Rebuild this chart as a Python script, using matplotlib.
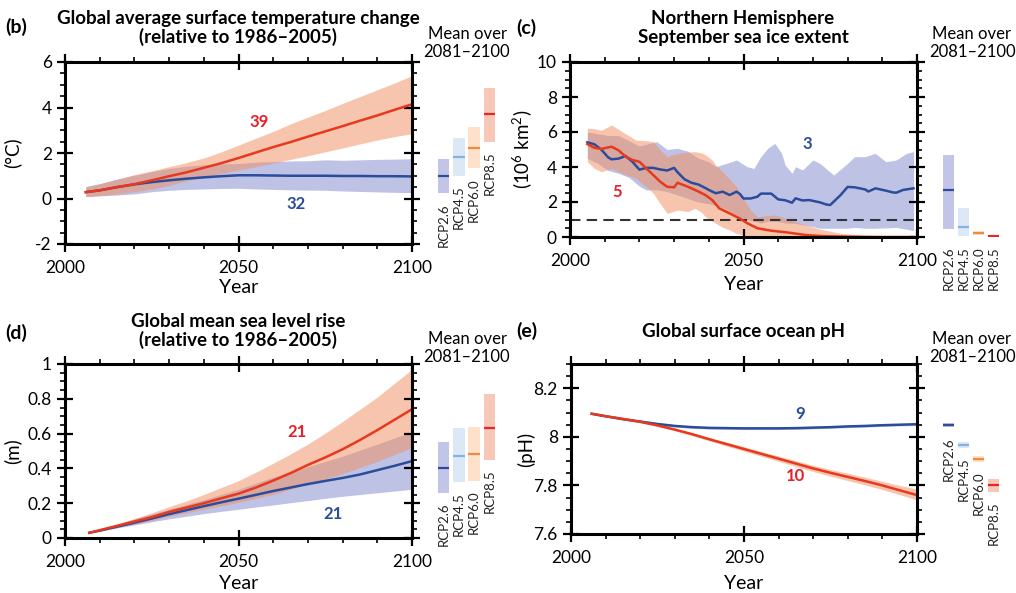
# IPCC-style panels: temperature, sea ice, sea level, ocean pH

import matplotlib
matplotlib.use('Agg')
import matplotlib.pyplot as plt
from matplotlib.ticker import MultipleLocator, FuncFormatter

plt.rcParams['font.family'] = ['Lato', 'DejaVu Sans']
plt.rcParams['mathtext.fontset'] = 'custom'
plt.rcParams['mathtext.rm'] = 'Lato'
plt.rcParams['mathtext.it'] = 'Lato:italic'

BLUE = '#2b4c9b'
RED = '#e8381e'
BLUE_FILL = (127/255, 135/255, 205/255, 0.5)
RED_FILL = (241/255, 141/255, 93/255, 0.5)
NUM_BLUE = '#2b4c9b'
NUM_RED = '#e5202a'

rcp_names = ['RCP2.6', 'RCP4.5', 'RCP6.0', 'RCP8.5']
bar_fill = ['#c2c5e7', '#dde8f7', '#fde1cb', '#f7c8b8']
bar_line = ['#2b4c9b', '#7fb3e2', '#f08a3c', '#e8262a']

# (b) global average surface temperature change
b_years = [2006, 2010, 2015, 2020, 2025, 2030, 2035, 2040, 2045, 2050,
           2055, 2060, 2065, 2070, 2075, 2080, 2085, 2090, 2095, 2100]
b_red = [0.28, 0.36, 0.50, 0.63, 0.80, 0.98, 1.15, 1.35, 1.55, 1.78,
         2.02, 2.26, 2.48, 2.72, 2.95, 3.18, 3.42, 3.65, 3.90, 4.14]
b_red_hi = [0.52, 0.65, 0.85, 1.05, 1.22, 1.40, 1.58, 1.78, 2.05, 2.35,
            2.65, 2.95, 3.28, 3.58, 3.87, 4.18, 4.48, 4.78, 5.08, 5.40]
b_red_lo = [0.08, 0.12, 0.20, 0.30, 0.42, 0.58, 0.78, 0.95, 1.10, 1.25,
            1.40, 1.56, 1.72, 1.88, 2.05, 2.22, 2.40, 2.57, 2.72, 2.85]
b_blue = [0.28, 0.36, 0.50, 0.62, 0.72, 0.80, 0.87, 0.93, 0.98, 1.02,
          1.02, 1.01, 1.00, 1.00, 1.00, 0.99, 0.99, 0.98, 0.98, 0.97]
b_blue_hi = [0.52, 0.65, 0.85, 1.02, 1.18, 1.32, 1.42, 1.48, 1.52, 1.54,
             1.60, 1.62, 1.65, 1.66, 1.70, 1.68, 1.70, 1.72, 1.73, 1.75]
b_blue_lo = [0.08, 0.12, 0.15, 0.20, 0.30, 0.36, 0.40, 0.42, 0.44, 0.45,
             0.42, 0.40, 0.38, 0.37, 0.36, 0.33, 0.31, 0.29, 0.27, 0.26]
b_bar_lo = [0.22, 1.00, 1.32, 2.50]
b_bar_hi = [1.72, 2.65, 3.15, 4.85]
b_bar_mean = [1.00, 1.84, 2.24, 3.70]

# (c) Northern Hemisphere September sea ice extent
c_blue_years = [2005, 2007, 2009, 2011, 2012, 2014, 2016, 2018, 2020, 2022,
                2024, 2026, 2028, 2030, 2031, 2033, 2035, 2037, 2039, 2040,
                2042, 2044, 2046, 2048, 2049, 2050, 2052, 2054, 2055, 2058,
                2060, 2062, 2064, 2065, 2067, 2069, 2072, 2074, 2075, 2078,
                2080, 2082, 2085, 2086, 2088, 2091, 2093, 2094, 2096, 2099]
c_blue = [5.41, 5.30, 5.00, 4.55, 4.44, 4.48, 4.63, 4.30, 3.85, 3.95,
          3.95, 3.86, 3.80, 3.95, 3.70, 3.30, 3.10, 3.00, 2.80, 2.69,
          2.50, 2.59, 2.40, 2.59, 2.45, 2.20, 2.20, 2.30, 2.48, 2.48,
          2.15, 2.10, 1.96, 2.21, 2.09, 2.11, 1.98, 1.85, 1.83, 2.40,
          2.86, 2.84, 2.72, 2.60, 2.78, 2.65, 2.55, 2.53, 2.69, 2.78]
c_red_years = [2005, 2007, 2009, 2011, 2012, 2014, 2016, 2018, 2020, 2022,
               2024, 2026, 2028, 2030, 2031, 2034, 2037, 2039, 2041, 2043,
               2046, 2049, 2051, 2054, 2058, 2063, 2068, 2073, 2080, 2090,
               2099]
c_red = [5.31, 5.10, 5.03, 5.12, 5.16, 4.95, 4.60, 4.40, 4.30, 3.92,
         3.54, 3.16, 2.87, 2.84, 3.10, 2.87, 2.60, 2.40, 2.11, 1.64,
         1.35, 1.05, 0.80, 0.50, 0.36, 0.25, 0.11, 0.05, 0.02, 0.00,
         0.00]
c_blue_band_years = [2005, 2008, 2011, 2014, 2017, 2020, 2022, 2025, 2028, 2031,
                     2034, 2037, 2040, 2042, 2045, 2048, 2051, 2053, 2055, 2057,
                     2059, 2061, 2062, 2064, 2065, 2067, 2070, 2072, 2076, 2080,
                     2082, 2085, 2088, 2091, 2094, 2097, 2099]
c_blue_hi = [6.00, 5.90, 5.80, 5.80, 5.50, 5.20, 5.30, 5.45, 5.00, 5.07,
             4.90, 4.50, 4.30, 4.02, 4.20, 4.40, 4.02, 3.92, 4.59, 5.07,
             5.35, 4.78, 4.11, 3.64, 4.02, 3.83, 4.40, 4.21, 3.54, 4.21,
             4.59, 4.59, 4.78, 4.30, 4.40, 4.78, 4.88]
c_blue_lo = [4.50, 4.20, 3.80, 3.64, 3.40, 2.90, 2.69, 2.70, 2.60, 2.40,
             2.20, 2.00, 1.90, 1.80, 1.60, 1.20, 1.00, 0.90, 0.80, 0.90,
             0.90, 0.85, 0.80, 0.78, 0.78, 0.70, 0.60, 0.50, 0.50, 0.50,
             0.55, 0.50, 0.50, 0.52, 0.55, 0.45, 0.36]
c_red_band_years = [2005, 2007, 2009, 2012, 2015, 2019, 2022, 2024, 2026, 2028,
                    2031, 2034, 2036, 2038, 2039, 2041, 2042, 2044, 2046, 2048,
                    2050, 2052, 2054, 2059, 2062, 2068, 2072, 2078, 2085, 2099]
c_red_hi = [6.21, 6.20, 6.10, 6.40, 6.02, 5.54, 5.50, 5.45, 4.97, 4.59,
            4.78, 4.85, 4.88, 4.80, 4.70, 4.40, 4.10, 3.73, 3.30, 2.87,
            2.20, 1.54, 1.16, 1.26, 1.07, 0.69, 0.45, 0.21, 0.08, 0.03]
c_red_lo = [4.30, 3.92, 3.73, 3.92, 3.64, 3.35, 2.87, 2.50, 1.90, 1.35,
            1.54, 1.45, 1.64, 1.40, 1.16, 0.90, 0.78, 0.55, 0.40, 0.20,
            0.11, 0.05, 0.02, 0.00, 0.00, 0.00, 0.00, 0.00, 0.00, 0.00]
c_bar_lo = [0.46, 0.04, 0.11, 0.00]
c_bar_hi = [4.69, 1.67, 0.36, 0.12]
c_bar_mean = [2.71, 0.59, 0.21, 0.03]

# (d) global mean sea level rise
d_years = [2007, 2010, 2015, 2020, 2025, 2030, 2035, 2040, 2045, 2050,
           2055, 2060, 2065, 2070, 2075, 2080, 2085, 2090, 2095, 2100]
d_red = [0.030, 0.045, 0.070, 0.095, 0.120, 0.150, 0.175, 0.200, 0.228, 0.255,
         0.290, 0.330, 0.373, 0.420, 0.463, 0.510, 0.563, 0.620, 0.680, 0.740]
d_red_hi = [0.030, 0.048, 0.080, 0.112, 0.145, 0.180, 0.213, 0.250, 0.290, 0.330,
            0.378, 0.430, 0.483, 0.540, 0.603, 0.670, 0.740, 0.810, 0.890, 0.970]
d_red_lo = [0.030, 0.042, 0.062, 0.080, 0.100, 0.125, 0.145, 0.165, 0.185, 0.205,
            0.228, 0.250, 0.280, 0.310, 0.340, 0.370, 0.405, 0.440, 0.480, 0.520]
d_blue = [0.030, 0.042, 0.065, 0.088, 0.112, 0.137, 0.160, 0.183, 0.205, 0.226,
          0.248, 0.270, 0.290, 0.310, 0.328, 0.345, 0.365, 0.390, 0.415, 0.442]
d_blue_hi = [0.030, 0.046, 0.078, 0.110, 0.138, 0.165, 0.193, 0.220, 0.250, 0.280,
             0.315, 0.350, 0.380, 0.410, 0.440, 0.470, 0.505, 0.540, 0.575, 0.610]
d_blue_lo = [0.030, 0.040, 0.058, 0.075, 0.093, 0.110, 0.125, 0.140, 0.153, 0.165,
             0.178, 0.190, 0.203, 0.215, 0.228, 0.240, 0.250, 0.260, 0.270, 0.280]
d_bar_lo = [0.26, 0.32, 0.33, 0.45]
d_bar_hi = [0.55, 0.63, 0.64, 0.83]
d_bar_mean = [0.40, 0.47, 0.48, 0.63]

# (e) global surface ocean pH
e_years = [2006, 2010, 2015, 2020, 2025, 2030, 2035, 2040, 2045, 2050,
           2055, 2060, 2065, 2070, 2075, 2080, 2085, 2090, 2095, 2100]
e_red = [8.095, 8.085, 8.074, 8.062, 8.047, 8.030, 8.011, 7.990, 7.970, 7.950,
         7.930, 7.910, 7.890, 7.870, 7.852, 7.835, 7.818, 7.800, 7.780, 7.760]
e_red_hi = [8.097, 8.087, 8.077, 8.065, 8.051, 8.035, 8.017, 7.997, 7.978, 7.959,
            7.940, 7.921, 7.902, 7.883, 7.866, 7.850, 7.834, 7.817, 7.800, 7.785]
e_red_lo = [8.093, 8.083, 8.071, 8.059, 8.043, 8.025, 8.005, 7.983, 7.962, 7.941,
            7.920, 7.899, 7.878, 7.857, 7.838, 7.820, 7.802, 7.783, 7.762, 7.740]
e_blue = [8.095, 8.085, 8.073, 8.063, 8.053, 8.045, 8.040, 8.037, 8.036, 8.035,
          8.035, 8.035, 8.036, 8.038, 8.040, 8.043, 8.045, 8.048, 8.050, 8.052]
e_blue_hi = [8.097, 8.088, 8.077, 8.068, 8.058, 8.050, 8.045, 8.042, 8.041, 8.040,
             8.040, 8.040, 8.041, 8.043, 8.045, 8.048, 8.050, 8.053, 8.055, 8.057]
e_blue_lo = [8.093, 8.082, 8.069, 8.058, 8.048, 8.040, 8.035, 8.032, 8.031, 8.030,
             8.030, 8.030, 8.031, 8.033, 8.035, 8.038, 8.040, 8.043, 8.045, 8.047]
e_bar_lo = [8.039, 7.955, 7.897, 7.773]
e_bar_hi = [8.056, 7.980, 7.920, 7.825]
e_bar_mean = [8.049, 7.968, 7.908, 7.800]

W, H = 1016, 593
fig = plt.figure(figsize=(W / 100, H / 100), dpi=100)


def rect(l, t, r, b):
    # pixel box -> figure fraction
    return [l / W, 1 - b / H, (r - l) / W, (b - t) / H]


def fx(x):
    return x / W


def fy(y):
    return 1 - y / H


def style(ax, ylim, ymaj, ymin, ylabel, ylab_x, xlab_y):
    ax.set_xlim(2000, 2100)
    ax.set_ylim(*ylim)
    ax.xaxis.set_major_locator(MultipleLocator(50))
    ax.xaxis.set_minor_locator(MultipleLocator(10))
    ax.yaxis.set_major_locator(MultipleLocator(ymaj))
    ax.yaxis.set_minor_locator(MultipleLocator(ymin))
    ax.yaxis.set_major_formatter(FuncFormatter(lambda v, p: '%g' % round(v, 3)))
    ax.tick_params(which='major', direction='inout', length=11, width=1.6,
                   top=True, right=True, labelsize=12.5)
    ax.tick_params(axis='y', which='major', pad=4)
    ax.tick_params(axis='x', which='major', pad=6)
    ax.tick_params(which='minor', direction='out', length=3.5, width=1.2,
                   top=True, right=True)
    for s in ax.spines.values():
        s.set_linewidth(2.2)
    ax.set_xlabel('Year', fontsize=14)
    ax.set_ylabel(ylabel, fontsize=13.5)
    ax.yaxis.set_label_coords(ylab_x, 0.5)
    ax.xaxis.set_label_coords(0.5, xlab_y)


def mean_bars(box, ylim, lo, hi, mean, same_level=False):
    bx = fig.add_axes(box)
    bx.set_xlim(-0.5, 3.5)
    bx.set_ylim(*ylim)
    bx.axis('off')
    for i in range(4):
        bx.bar(i, hi[i] - lo[i], bottom=lo[i], width=0.74, color=bar_fill[i])
        bx.hlines(mean[i], i - 0.37, i + 0.37, color=bar_line[i], lw=1.6)
        ly = min(lo) if same_level else lo[i]
        bx.annotate(rcp_names[i], (i, ly), xytext=(0, -7), textcoords='offset points',
                    rotation=90, ha='center', va='top', fontsize=9.5, color='#222222',
                    annotation_clip=False)


def headers(letter, lx, ly, title, tx, ty, mx, my):
    fig.text(fx(lx), fy(ly), letter, fontsize=14, fontweight='bold', va='center', ha='left')
    fig.text(fx(tx), fy(ty), title, fontsize=13.5, fontweight='bold', va='center',
             ha='center', linespacing=1.1)
    fig.text(fx(mx), fy(my), 'Mean over\n2081\u20132100', fontsize=12, va='center',
             ha='center', linespacing=1.2)


# ---- (b) ----
ax = fig.add_axes(rect(65, 62, 412, 244))
ax.fill_between(b_years, b_blue_lo, b_blue_hi, color=BLUE_FILL, lw=0)
ax.fill_between(b_years, b_red_lo, b_red_hi, color=RED_FILL, lw=0)
ax.plot(b_years, b_blue, color=BLUE, lw=1.8)
ax.plot(b_years, b_red, color=RED, lw=1.8)
ax.text(2056, 3.35, '39', color=NUM_RED, fontsize=12, fontweight='bold', ha='center', va='center')
ax.text(2066.6, -0.25, '32', color=NUM_BLUE, fontsize=12, fontweight='bold', ha='center', va='center')
style(ax, (-2, 6), 2, 0.5, '(\u00b0C)', -0.125, -0.19)
mean_bars(rect(436, 62, 497, 244), (-2, 6), b_bar_lo, b_bar_hi, b_bar_mean)
headers('(b)', 5, 27, 'Global average surface temperature change\n(relative to 1986\u20132005)',
        238, 28, 467, 43)

# ---- (c) ----
ax = fig.add_axes(rect(570, 62, 917, 237))
ax.fill_between(c_blue_band_years, c_blue_lo, c_blue_hi, color=BLUE_FILL, lw=0)
ax.fill_between(c_red_band_years, c_red_lo, c_red_hi, color=RED_FILL, lw=0)
ax.axhline(1, color='#333333', lw=1.5, ls=(0, (5, 3)))
ax.plot(c_blue_years, c_blue, color=BLUE, lw=1.8)
ax.plot(c_red_years, c_red, color=RED, lw=1.8)
ax.text(2068.3, 5.3, '3', color=NUM_BLUE, fontsize=12, fontweight='bold', ha='center', va='center')
ax.text(2013.5, 2.56, '5', color=NUM_RED, fontsize=12, fontweight='bold', ha='center', va='center')
style(ax, (0, 10), 2, 0.5, '(10$^6$ km$^2$)', -0.105, -0.22)
mean_bars(rect(941, 62, 1001, 237), (0, 10), c_bar_lo, c_bar_hi, c_bar_mean, same_level=True)
headers('(c)', 516, 28, 'Northern Hemisphere\nSeptember sea ice extent',
        743, 28, 972, 43)

# ---- (d) ----
ax = fig.add_axes(rect(65, 364, 412, 538))
ax.fill_between(d_years, d_blue_lo, d_blue_hi, color=BLUE_FILL, lw=0)
ax.fill_between(d_years, d_red_lo, d_red_hi, color=RED_FILL, lw=0)
ax.plot(d_years, d_blue, color=BLUE, lw=1.8)
ax.plot(d_years, d_red, color=RED, lw=1.8)
ax.text(2066.8, 0.61, '21', color=NUM_RED, fontsize=12, fontweight='bold', ha='center', va='center')
ax.text(2077.1, 0.14, '21', color=NUM_BLUE, fontsize=12, fontweight='bold', ha='center', va='center')
style(ax, (0, 1), 0.2, 0.05, '(m)', -0.127, -0.21)
mean_bars(rect(436, 364, 497, 538), (0, 1), d_bar_lo, d_bar_hi, d_bar_mean)
headers('(d)', 5, 333, 'Global mean sea level rise\n(relative to 1986\u20132005)',
        238, 331, 467, 348)

# ---- (e) ----
ax = fig.add_axes(rect(571, 364, 917, 534))
ax.fill_between(e_years, e_blue_lo, e_blue_hi, color=BLUE_FILL, lw=0)
ax.fill_between(e_years, e_red_lo, e_red_hi, color=RED_FILL, lw=0)
ax.plot(e_years, e_blue, color=BLUE, lw=1.8)
ax.plot(e_years, e_red, color=RED, lw=1.8)
ax.text(2066.2, 8.096, '9', color=NUM_BLUE, fontsize=12, fontweight='bold', ha='center', va='center')
ax.text(2065.0, 7.84, '10', color=NUM_RED, fontsize=12, fontweight='bold', ha='center', va='center')
style(ax, (7.6, 8.3), 0.2, 0.05, '(pH)', -0.104, -0.24)
mean_bars(rect(941, 364, 1001, 534), (7.6, 8.3), e_bar_lo, e_bar_hi, e_bar_mean)
headers('(e)', 516, 331, 'Global surface ocean pH', 743, 331, 972, 348)

fig.savefig('out.png', dpi=100)
